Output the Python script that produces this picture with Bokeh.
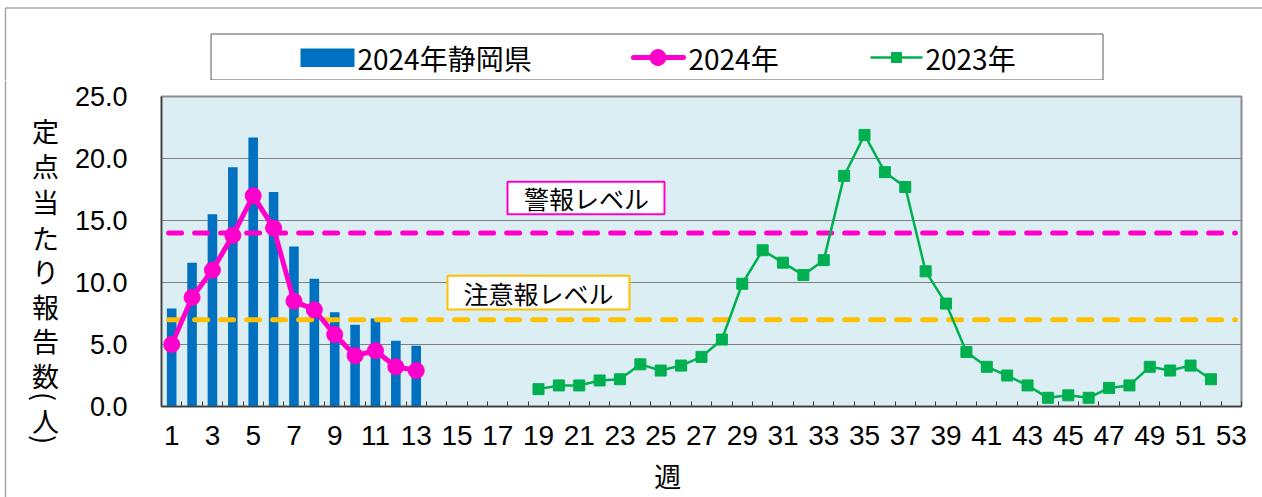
import numpy as np
from bokeh.plotting import figure
from bokeh.layouts import column, row
from bokeh.models import FixedTicker, Range1d, ColumnDataSource
from bokeh.core.properties import value
from bokeh.embed import file_html
from bokeh.resources import INLINE

# ---------------- data ----------------
weeks_2024 = list(range(1, 14))
shizuoka_2024 = [7.9, 11.6, 15.5, 19.3, 21.7, 17.3, 12.9, 10.3, 7.6, 6.6, 7.1, 5.3, 4.9]
national_2024 = [5.0, 8.8, 11.0, 13.8, 17.0, 14.4, 8.5, 7.8, 5.8, 4.1, 4.5, 3.2, 2.9]
weeks_2023 = list(range(19, 53))
values_2023 = [1.4, 1.7, 1.7, 2.1, 2.2, 3.4, 2.9, 3.3, 4.0, 5.4,
               9.9, 12.6, 11.6, 10.6, 11.8, 18.6, 21.9, 18.9, 17.7, 10.9,
               8.3, 4.4, 3.2, 2.5, 1.7, 0.7, 0.9, 0.7, 1.5, 1.7,
               3.2, 2.9, 3.3, 2.2]
alert_level = 14.0
caution_level = 7.0
level_x_extent = [0.85, 53.2]

x_tick_weeks = list(range(1, 54, 2))
x_tick_labels = [str(w) for w in x_tick_weeks]
y_ticks = [0, 5, 10, 15, 20, 25]
y_tick_labels = ["0.0", "5.0", "10.0", "15.0", "20.0", "25.0"]

legend_labels = ["2024年静岡県", "2024年", "2023年"]
y_title = ["定", "点", "当", "た", "り", "報", "告", "数", "(", "人", ")"]
x_title = "週"
alert_text = "警報レベル"
caution_text = "注意報レベル"

# ---------------- style / layout (page pixels) ----------------
FONT = "Noto Sans CJK JP"
NUM_FONT = "Liberation Sans"
BLUE = "#0070C0"
PINK = "#FF00CC"
GREEN = "#00B050"
ORANGE = "#FFC000"
BORDER = "#A6A6A6"

W, H = 1262, 497
LEG_H = 80          # legend strip
MID_H = H - LEG_H
YT_W = 70           # y-title strip
MAIN_W = W - YT_W
FRAME_L, FRAME_T, FRAME_R, FRAME_B = 161, 96, 1241, 409


def strip(width, height, x0, y0):
    f = figure(width=width, height=height, output_backend="svg", toolbar_location=None,
               x_range=Range1d(x0, x0 + width), y_range=Range1d(y0 + height, y0),
               x_axis_type=None, y_axis_type=None, min_border=0, frame_align=False)
    f.outline_line_color = None
    f.background_fill_color = "white"
    f.border_fill_color = "white"
    f.grid.visible = False
    return f


def txt(f, x, y, t, size, align="left", angle=0.0):
    f.text(x=[x], y=[y], text=[t], angle=angle, text_font=value(FONT),
           text_font_size=value(f"{size}px"), text_color="black",
           text_align=align, text_baseline="middle")


# ---------------- legend strip ----------------
leg = strip(W, LEG_H, 0, 0)
leg.line(x=[5, W], y=[7.5, 7.5], line_color=BORDER, line_width=1.5)
leg.line(x=[5, 5], y=[7.5, LEG_H], line_color=BORDER, line_width=1.5)
leg.quad(left=210.5, right=1102.5, top=33.5, bottom=79.5, fill_color="white",
         line_color="#595959", line_width=1)
leg.quad(left=300, right=354, top=48, bottom=66.5, fill_color=BLUE, line_color=None)
txt(leg, 357, 57, legend_labels[0], 28)
leg.line(x=[633, 683], y=[57, 57], line_color=PINK, line_width=5, line_cap="round")
leg.scatter(x=[657.5], y=[57], marker="circle", size=16, fill_color=PINK, line_color=PINK)
txt(leg, 688, 57, legend_labels[1], 28)
leg.line(x=[870, 922], y=[57, 57], line_color=GREEN, line_width=2.5)
leg.scatter(x=[896], y=[57], marker="square", size=10, fill_color=GREEN, line_color=GREEN)
txt(leg, 925, 57, legend_labels[2], 28)

# ---------------- y-title strip ----------------
yt = strip(YT_W, MID_H, 0, LEG_H)
yt.line(x=[5, 5], y=[LEG_H, H], line_color=BORDER, line_width=1.5)
y_pos = [130, 165, 201, 237, 271, 306, 340, 375, 396, 420, 439]
for ch, py in zip(y_title, y_pos):
    ang = -np.pi / 2 if ch in "()" else 0.0
    txt(yt, 45, py, ch, 27, align="center", angle=ang)

# ---------------- main chart ----------------
p = figure(width=MAIN_W, height=MID_H, output_backend="svg", toolbar_location=None,
           x_range=Range1d(0.5, 53.5), y_range=Range1d(0, 25), frame_align=False,
           min_border_left=FRAME_L - YT_W, min_border_right=W - FRAME_R,
           min_border_top=FRAME_T - LEG_H, min_border_bottom=H - FRAME_B)
p.background_fill_color = "#DAEEF3"
p.border_fill_color = "white"
p.outline_line_color = "#8C8C8C"
p.outline_line_width = 2

p.xaxis.ticker = FixedTicker(ticks=x_tick_weeks, minor_ticks=[w + 0.5 for w in range(0, 54)])
p.xaxis.major_label_overrides = {w: lab for w, lab in zip(x_tick_weeks, x_tick_labels)}
p.xaxis.major_tick_in = 0
p.xaxis.major_tick_out = 0
p.xaxis.minor_tick_in = 5
p.xaxis.minor_tick_out = 0
p.xaxis.minor_tick_line_color = "#404040"
p.xaxis.major_label_standoff = 19
p.xaxis.major_label_text_font = NUM_FONT
p.xaxis.major_label_text_font_size = "28px"
p.xaxis.major_label_text_color = "black"
p.xaxis.axis_line_color = "#404040"
p.xaxis.axis_line_width = 1.5
# x title: trailing ideographic / en spaces shift the centred label to the left
p.xaxis.axis_label = x_title + "\u3000\u3000\u2002"
p.xaxis.axis_label_text_font = FONT
p.xaxis.axis_label_text_font_size = "27px"
p.xaxis.axis_label_text_font_style = "normal"
p.xaxis.axis_label_text_color = "black"
p.xaxis.axis_label_standoff = 8

p.yaxis.ticker = FixedTicker(ticks=y_ticks, minor_ticks=[])
p.yaxis.major_label_overrides = {t: lab for t, lab in zip(y_ticks, y_tick_labels)}
p.yaxis.major_tick_in = 0
p.yaxis.major_tick_out = 0
p.yaxis.major_label_standoff = 34
p.yaxis.major_label_text_font = NUM_FONT
p.yaxis.major_label_text_font_size = "27px"
p.yaxis.major_label_text_color = "black"
p.yaxis.axis_line_color = "#404040"
p.yaxis.axis_line_width = 1.5

p.xgrid.grid_line_color = None
p.ygrid.grid_line_color = "#808080"
p.ygrid.grid_line_width = 1

src_bar = ColumnDataSource(dict(x=weeks_2024, top=shizuoka_2024))
p.vbar(x="x", top="top", bottom=0, width=0.47, source=src_bar,
       fill_color=BLUE, line_color=None)

p.line(x=level_x_extent, y=[alert_level, alert_level], line_color=PINK, line_width=5,
       line_dash="13 13", line_cap="round")
p.line(x=level_x_extent, y=[caution_level, caution_level], line_color=ORANGE, line_width=5,
       line_dash="13 13", line_cap="round")

src23 = ColumnDataSource(dict(x=weeks_2023, y=values_2023))
p.line(x="x", y="y", source=src23, line_color=GREEN, line_width=2.5)
p.scatter(x="x", y="y", source=src23, marker="square", size=11,
          fill_color=GREEN, line_color=GREEN)

src24 = ColumnDataSource(dict(x=weeks_2024, y=national_2024))
p.line(x="x", y="y", source=src24, line_color=PINK, line_width=5)
p.scatter(x="x", y="y", source=src24, marker="circle", size=16,
          fill_color=PINK, line_color=PINK)


# level labels (boxes inside the plot area, placed in week / value units)
def wk(px):
    return 0.5 + (px - FRAME_L) * 53.0 / (FRAME_R - FRAME_L)


def vl(py):
    return (FRAME_B - py) * 25.0 / (FRAME_B - FRAME_T)


p.quad(left=wk(507), right=wk(664), top=vl(182), bottom=vl(215),
       fill_color="white", line_color=PINK, line_width=2)
p.text(x=[wk(586)], y=[vl(198.5)], text=[alert_text], text_font=value(FONT),
       text_font_size=value("25px"), text_color="black", text_align="center",
       text_baseline="middle")
p.quad(left=wk(447), right=wk(629), top=vl(277), bottom=vl(311),
       fill_color="white", line_color=ORANGE, line_width=2)
p.text(x=[wk(538)], y=[vl(294)], text=[caution_text], text_font=value(FONT),
       text_font_size=value("25px"), text_color="black", text_align="center",
       text_baseline="middle")

layout = column(leg, row(yt, p))
open("out.html", "w").write(file_html(layout, INLINE))
